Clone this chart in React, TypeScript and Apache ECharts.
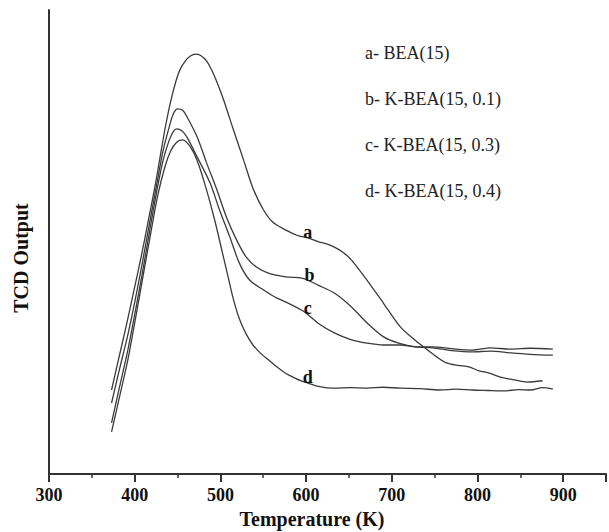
import React, { useEffect, useRef } from "react";
import * as echarts from "echarts";

const seriesNames = ["a- BEA(15)", "b- K-BEA(15, 0.1)", "c- K-BEA(15, 0.3)", "d- K-BEA(15, 0.4)"];
const curveTags = ["a", "b", "c", "d"];
const tagAtT = [602, 604, 602, 602];

const curveA: [number, number][] = [
  [373, 18.1], [381, 24.6], [389, 31.0], [398, 38.6], [408, 47.2], [416, 54.7], [424, 62.3],
  [430, 68.7], [436, 75.0], [442, 80.3], [448, 84.6], [453, 87.2], [459, 89.0], [465, 90.1],
  [471, 90.5], [477, 90.2], [484, 89.0], [490, 87.0], [497, 84.0], [504, 80.5], [515, 74.3],
  [527, 67.7], [538, 61.6], [550, 57.0], [561, 54.3], [576, 52.6], [590, 51.4], [602, 50.9],
  [614, 50.1], [624, 49.6], [633, 48.9], [643, 47.8], [653, 46.1], [671, 41.8], [690, 36.9],
  [710, 31.7], [728, 28.7], [740, 27.0], [752, 25.3], [763, 24.0], [777, 23.4], [790, 23.1],
  [802, 22.2], [813, 21.8], [828, 20.8], [843, 20.3], [858, 19.8], [876, 20.1],
];
const curveB: [number, number][] = [
  [373, 15.3], [382, 22.4], [392, 30.0], [401, 37.9], [410, 46.6], [418, 54.7], [426, 62.7],
  [433, 69.6], [440, 74.6], [445, 77.6], [450, 78.7], [456, 78.4], [461, 77.0], [473, 72.6],
  [484, 67.0], [496, 61.2], [507, 55.4], [519, 50.4], [530, 46.8], [542, 44.6], [556, 43.3],
  [576, 42.5], [595, 42.2], [604, 41.6], [614, 40.7], [633, 39.0], [653, 36.0], [671, 32.6],
  [690, 29.6], [708, 28.2], [728, 27.4], [748, 27.2], [770, 26.6], [794, 26.3], [815, 26.5],
  [839, 26.1], [862, 25.8], [888, 25.6],
];
const curveC: [number, number][] = [
  [373, 11.0], [382, 18.5], [392, 26.7], [401, 35.3], [410, 44.4], [418, 53.0], [426, 61.2],
  [433, 67.5], [440, 71.8], [445, 73.8], [449, 74.4], [455, 74.0], [461, 72.6], [473, 68.3],
  [488, 62.7], [499, 56.9], [511, 51.1], [522, 45.5], [534, 41.8], [550, 39.7], [564, 38.1],
  [576, 37.1], [595, 35.3], [602, 34.4], [614, 32.5], [633, 30.4], [653, 28.9], [671, 28.2],
  [690, 27.8], [710, 27.8], [728, 27.4], [748, 27.4], [770, 27.0], [794, 26.7], [815, 27.2],
  [839, 26.9], [862, 27.1], [888, 26.9],
];
const curveD: [number, number][] = [
  [373, 9.1], [382, 16.4], [392, 24.6], [401, 33.6], [410, 42.9], [419, 52.2], [427, 60.1],
  [435, 66.0], [442, 69.6], [449, 71.5], [456, 72.0], [463, 71.0], [469, 69.2], [475, 66.5],
  [481, 63.0], [488, 58.5], [495, 53.5], [502, 48.0], [509, 42.5], [515, 37.8], [522, 33.5],
  [530, 30.2], [538, 27.8], [547, 26.0], [556, 24.6], [568, 22.8], [580, 21.3], [595, 20.0],
  [602, 19.6], [614, 18.9], [633, 18.5], [652, 18.6], [671, 18.5], [690, 18.7], [710, 18.5],
  [733, 18.4], [756, 18.1], [775, 18.3], [794, 18.1], [812, 18.0], [831, 17.9], [848, 18.2],
  [862, 18.1], [876, 18.6], [888, 18.3],
];
const curves = [curveA, curveB, curveC, curveD];

const xTicksMax = 900;

export default function App() {
  const ref = useRef<HTMLDivElement>(null);
  useEffect(() => {
    if (!ref.current) return;
    const chart = echarts.init(ref.current, undefined, { renderer: "svg" });
    const lineColor = "#3a3a3a";
    const series = curves.map((pts, i) => {
      let best = 0;
      pts.forEach((p, k) => {
        if (Math.abs(p[0] - tagAtT[i]) < Math.abs(pts[best][0] - tagAtT[i])) best = k;
      });
      return {
        name: seriesNames[i],
        type: "line",
        showSymbol: false,
        smooth: 0.3,
        lineStyle: { color: lineColor, width: 1.3 },
        itemStyle: { color: lineColor },
        data: pts,
        markPoint: {
          symbol: "circle",
          symbolSize: 0,
          silent: true,
          itemStyle: { color: "rgba(0,0,0,0)" },
          label: {
            show: true,
            position: "top",
            distance: -3,
            fontFamily: "Liberation Serif",
            fontWeight: "bold",
            fontSize: 18,
            color: "#111",
          },
          data: [{ coord: pts[best], value: curveTags[i], label: { formatter: curveTags[i] } }],
        },
      };
    });
    chart.setOption({
      animation: false,
      backgroundColor: "#fff",
      grid: { left: 49, top: 10, width: 568, bottom: 58, containLabel: false },
      legend: {
        show: true,
        orient: "vertical",
        left: 355,
        top: 38,
        icon: "none",
        itemWidth: 0,
        itemHeight: 10,
        itemGap: 26,
        selectedMode: false,
        data: seriesNames,
        textStyle: { fontFamily: "Liberation Serif", fontSize: 18, color: "#222", lineHeight: 20 },
      },
      xAxis: {
        type: "value",
        min: 300,
        max: 950,
        interval: 100,
        splitLine: { show: false },
        axisLine: { show: true, lineStyle: { color: "#333", width: 2 } },
        axisTick: { show: true, length: 8, lineStyle: { color: "#333", width: 2 } },
        minorTick: { show: true, splitNumber: 2, length: 4, lineStyle: { color: "#333", width: 1.5 } },
        axisLabel: {
          formatter: (v: number) => (v <= xTicksMax ? String(v) : ""),
          fontFamily: "Liberation Serif",
          fontWeight: "bold",
          fontSize: 18,
          color: "#111",
          margin: 12,
        },
      },
      yAxis: {
        type: "value",
        min: 0,
        max: 100,
        splitLine: { show: false },
        axisLine: { show: true, lineStyle: { color: "#333", width: 2 } },
        axisTick: { show: false },
        axisLabel: { show: false },
      },
      graphic: [
        {
          type: "text",
          x: 312,
          y: 519,
          style: {
            text: "Temperature (K)",
            fontFamily: "Liberation Serif",
            fontWeight: "bold",
            fontSize: 20,
            fill: "#111",
            align: "center",
            verticalAlign: "middle",
          },
        },
        {
          type: "text",
          x: 21,
          y: 258,
          rotation: Math.PI / 2,
          style: {
            text: "TCD Output",
            fontFamily: "Liberation Serif",
            fontWeight: "bold",
            fontSize: 20,
            fill: "#111",
            align: "center",
            verticalAlign: "middle",
          },
        },
      ],
      series,
    });
    return () => chart.dispose();
  }, []);
  return (
    <div
      ref={ref}
      style={{ position: "absolute", left: 0, top: 0, width: 609, height: 532, overflow: "hidden" }}
    />
  );
}
